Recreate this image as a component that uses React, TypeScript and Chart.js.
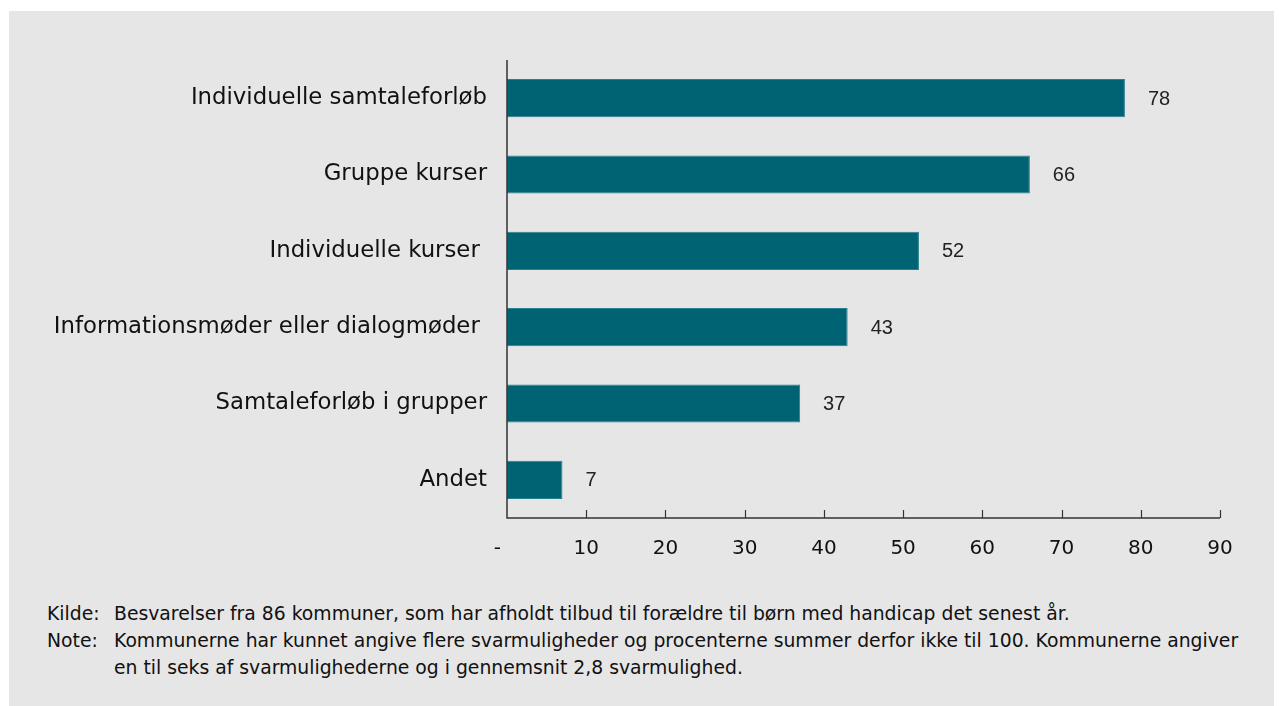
import React, { useEffect, useRef } from "react";
import { Chart, registerables } from "chart.js";

Chart.register(...registerables);

const categories = [
  "Individuelle samtaleforløb",
  "Gruppe kurser",
  "Individuelle kurser ",
  "Informationsmøder eller dialogmøder ",
  "Samtaleforløb i grupper",
  "Andet",
];
const values = [78, 66, 52, 43, 37, 7];
const xTicks = [0, 10, 20, 30, 40, 50, 60, 70, 80, 90];
const xTickLabels = ["-   ", "10", "20", "30", "40", "50", "60", "70", "80", "90"];
const notes = [
  ["Kilde:", "Besvarelser fra 86 kommuner, som har afholdt tilbud til forældre til børn med handicap det senest år."],
  ["Note:", "Kommunerne har kunnet angive flere svarmuligheder og procenterne summer derfor ikke til 100. Kommunerne angiver en til seks af svarmulighederne og i gennemsnit 2,8 svarmulighed."],
];

const BAR = "#006373";
const FONT = "'DejaVu Sans', Verdana, sans-serif";

export default function App() {
  const ref = useRef<HTMLCanvasElement | null>(null);

  useEffect(() => {
    if (!ref.current) return;
    const extras = {
      id: "extras",
      afterDatasetsDraw(chart: any) {
        const ctx = chart.ctx;
        const x = chart.scales.x;
        const y = chart.scales.y;
        ctx.save();
        ctx.strokeStyle = "#333";
        ctx.lineWidth = 1.5;
        ctx.beginPath();
        ctx.moveTo(x.left, y.top);
        ctx.lineTo(x.left, y.bottom);
        ctx.lineTo(x.right, y.bottom);
        ctx.stroke();
        ctx.lineWidth = 1.2;
        xTicks.forEach((v) => {
          if (v === 0) return;
          const px = Math.round(x.getPixelForValue(v)) + 0.5;
          ctx.beginPath();
          ctx.moveTo(px, y.bottom);
          ctx.lineTo(px, y.bottom - 8);
          ctx.stroke();
        });
        ctx.fillStyle = "#222";
        ctx.font = "20px 'Liberation Sans', Arial, sans-serif";
        ctx.textAlign = "left";
        ctx.textBaseline = "middle";
        const meta = chart.getDatasetMeta(0);
        meta.data.forEach((bar: any, i: number) => {
          ctx.fillText(String(values[i]), bar.x + 23, bar.y + 1);
        });
        ctx.restore();
      },
    };

    const chart = new Chart(ref.current, {
      type: "bar",
      data: {
        labels: categories,
        datasets: [
          {
            data: values,
            backgroundColor: BAR,
            borderColor: "#2a7f8c",
            borderWidth: 1,
            borderSkipped: false,
            barPercentage: 0.5,
            categoryPercentage: 1,
          },
        ],
      },
      options: {
        indexAxis: "y",
        animation: false,
        responsive: false,
        maintainAspectRatio: false,
        layout: { padding: { top: 49, right: 62, bottom: 0, left: 0 } },
        plugins: {
          legend: { display: false },
          tooltip: { enabled: false },
        },
        scales: {
          x: {
            min: 0,
            max: 90,
            afterBuildTicks: (s: any) => {
              s.ticks = xTicks.map((v) => ({ value: v }));
            },
            afterFit: (s: any) => {
              s.height = 73;
            },
            grid: { display: false, drawTicks: false },
            border: { display: false },
            ticks: {
              padding: 19,
              color: "#111",
              font: { family: FONT, size: 20 },
              callback: (v: any) => xTickLabels[xTicks.indexOf(Number(v))] ?? String(v),
            },
          },
          y: {
            afterFit: (s: any) => {
              s.width = 498;
            },
            grid: { display: false, drawTicks: false },
            border: { display: false },
            ticks: {
              padding: 20,
              color: "#111",
              font: { family: FONT, size: 22.8 },
            },
          },
        },
      },
      plugins: [extras],
    });
    return () => chart.destroy();
  }, []);

  return (
    <div
      style={{
        marginLeft: 1,
        marginTop: 3,
        width: 1273,
        height: 695,
        background: "#e6e6e6",
        position: "relative",
        fontFamily: FONT,
      }}
    >
      <canvas ref={ref} width={1273} height={580} style={{ display: "block" }} />
      <div style={{ paddingLeft: 38, paddingRight: 35, marginTop: 9, fontSize: 18.8, lineHeight: "27px", color: "#111" }}>
        {notes.map(([k, t]) => (
          <div key={k} style={{ display: "flex" }}>
            <div style={{ width: 67, flex: "none" }}>{k}</div>
            <div style={{ flex: 1 }}>{t}</div>
          </div>
        ))}
      </div>
    </div>
  );
}
